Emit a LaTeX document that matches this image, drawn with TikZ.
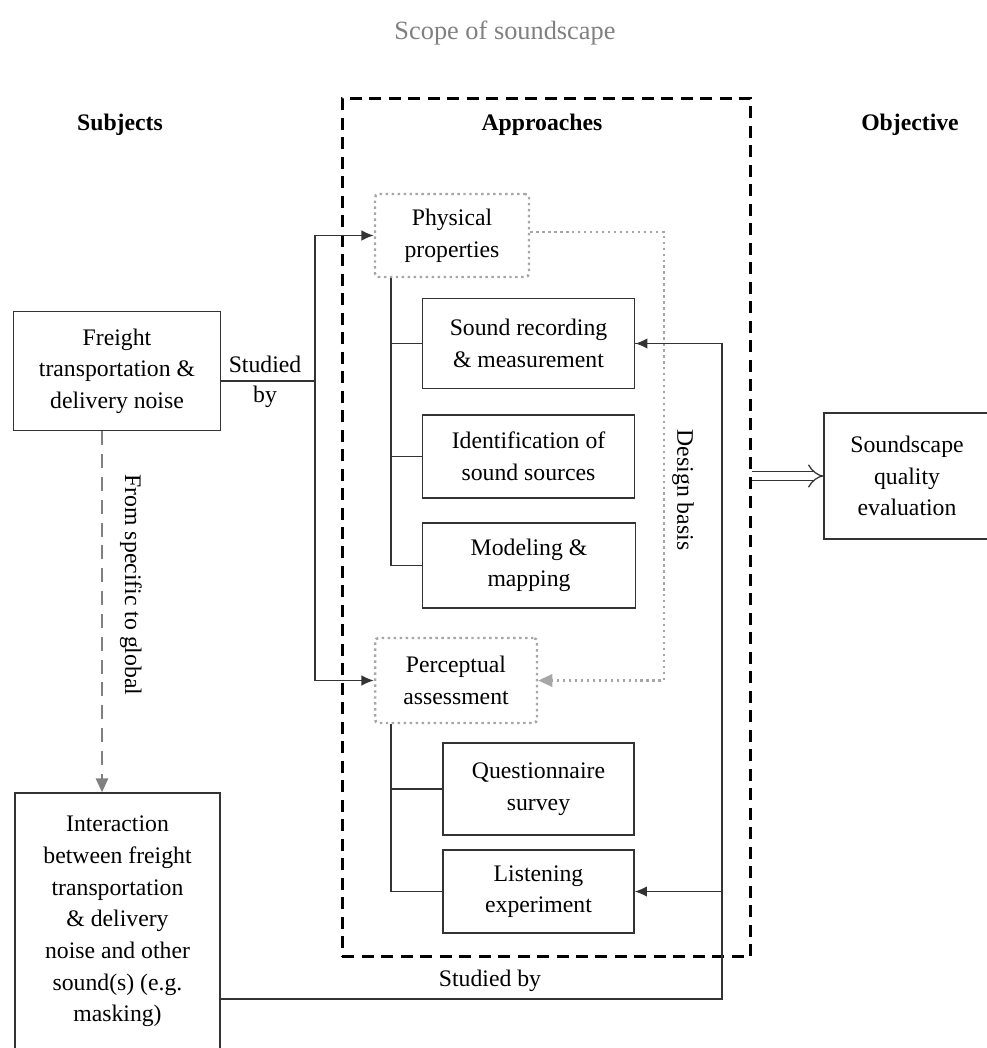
\documentclass[tikz,border=0pt]{standalone}
\usepackage{fontspec}
\setmainfont{Liberation Serif}
\usepackage{tikz}
\usetikzlibrary{positioning,arrows.meta}

\begin{document}
\begin{tikzpicture}[
    x=0.02cm, y=-0.02cm,
    font=\fontsize{13.5}{18}\selectfont,
    box/.style={rectangle, draw=black!80, line width=0.8pt, align=center, inner sep=2pt},
    group/.style={rectangle, rounded corners=2pt, draw=gray!70, dotted, line width=1.4pt, align=center},
    head/.style={font=\fontsize{13.5}{18}\selectfont\bfseries},
    arrow/.style={-{Latex[length=7pt,width=6pt]}, line width=0.8pt, draw=black!80},
    line/.style={line width=0.8pt, draw=black!80}
]
\useasboundingbox (0,0) rectangle (987,1048);

% Headings
\node[text=gray, font=\fontsize{15}{18}\selectfont] (title) at (505,33) {Scope of soundscape};
\node[head] (subj) at (120,125) {Subjects};
\node[head] (appr) at (542,125) {Approaches};
\node[head] (obj) at (910,125) {Objective};

% Nodes
\node[draw, dash pattern=on 0.24cm off 0.15cm, line width=1.7pt, minimum width=8.18cm, minimum height=17.18cm] (scope) at (546.5,527.5) {};
\node[group, minimum width=3.08cm, minimum height=1.66cm] (phys) at (452,235.5) {Physical\\properties};
\node[box, minimum width=4.24cm, minimum height=1.8cm] (rec) at (528.5,343.5) {Sound recording\\\& measurement};
\node[box, minimum width=4.24cm, minimum height=1.66cm] (ident) at (528.5,456.5) {Identification of\\sound sources};
\node[box, minimum width=4.26cm, minimum height=1.7cm] (model) at (529,565.5) {Modeling \&\\mapping};
\node[group, minimum width=3.24cm, minimum height=1.7cm] (perc) at (456,680.5) {Perceptual\\assessment};
\node[box, minimum width=3.82cm, minimum height=1.84cm] (quest) at (538.5,789) {Questionnaire\\survey};
\node[box, minimum width=3.82cm, minimum height=1.66cm] (listen) at (538.5,891.5) {Listening\\experiment};
\node[box, minimum width=4.14cm, minimum height=2.38cm] (freight) at (117,371) {Freight\\transportation \&\\delivery noise};
\node[box, minimum width=4.1cm, minimum height=5.14cm] (inter) at (117.5,921.5) {Interaction\\between freight\\transportation\\\& delivery\\noise and other\\sound(s) (e.g.\\masking)};
\node[box, minimum width=3.32cm, minimum height=2.52cm] (qual) at (907,476) {Soundscape\\quality\\evaluation};

% Helper points
\coordinate (split) at (315,381);
\coordinate (trunk) at (391,0);
\coordinate (basis) at (664,0);
\coordinate (back) at (722,999);
\coordinate (down) at (102,0);

% Arrows
\draw[line] (freight.east |- split) -- (split);
\draw[arrow] (split) |- (phys.west);
\draw[arrow] (split) |- (perc.west);
\node[align=center] (studied) at (265,382) {Studied\\[-1pt]by};

\draw[line] (phys.south -| trunk) |- (model.west);
\draw[line] (trunk |- rec.west) -- (rec.west);
\draw[line] (trunk |- ident.west) -- (ident.west);
\draw[line] (perc.south -| trunk) |- (listen.west);
\draw[line] (trunk |- quest.west) -- (quest.west);

\draw[gray!70, dotted, line width=1.4pt, -{Triangle[length=8pt,width=7pt,fill=gray!70]}] (phys.east |- 0,232) -- (basis |- 0,232) -- (basis |- perc.east) -- (perc.east);
\node[rotate=-90] (design) at (683,490) {Design basis};

\draw[line] (inter.east |- back) -- (back) |- (rec.east);
\draw[arrow] (back |- rec.east) -- (rec.east);
\draw[arrow] (back |- listen.east) -- (listen.east);
\node (studied2) at (490,981) {Studied by};

\draw[gray, line width=1.2pt, dash pattern=on 8pt off 5pt, -{Triangle[length=8pt,width=7pt]}] (freight.south -| down) -- (inter.north -| down);
\node[rotate=-90] (spec) at (131,585) {From specific to global};

\draw[-{Implies}, double=white, double distance=4pt, line width=0.7pt, draw=black!80] (scope.east |- qual.west) -- (qual.west);

\end{tikzpicture}
\end{document}
